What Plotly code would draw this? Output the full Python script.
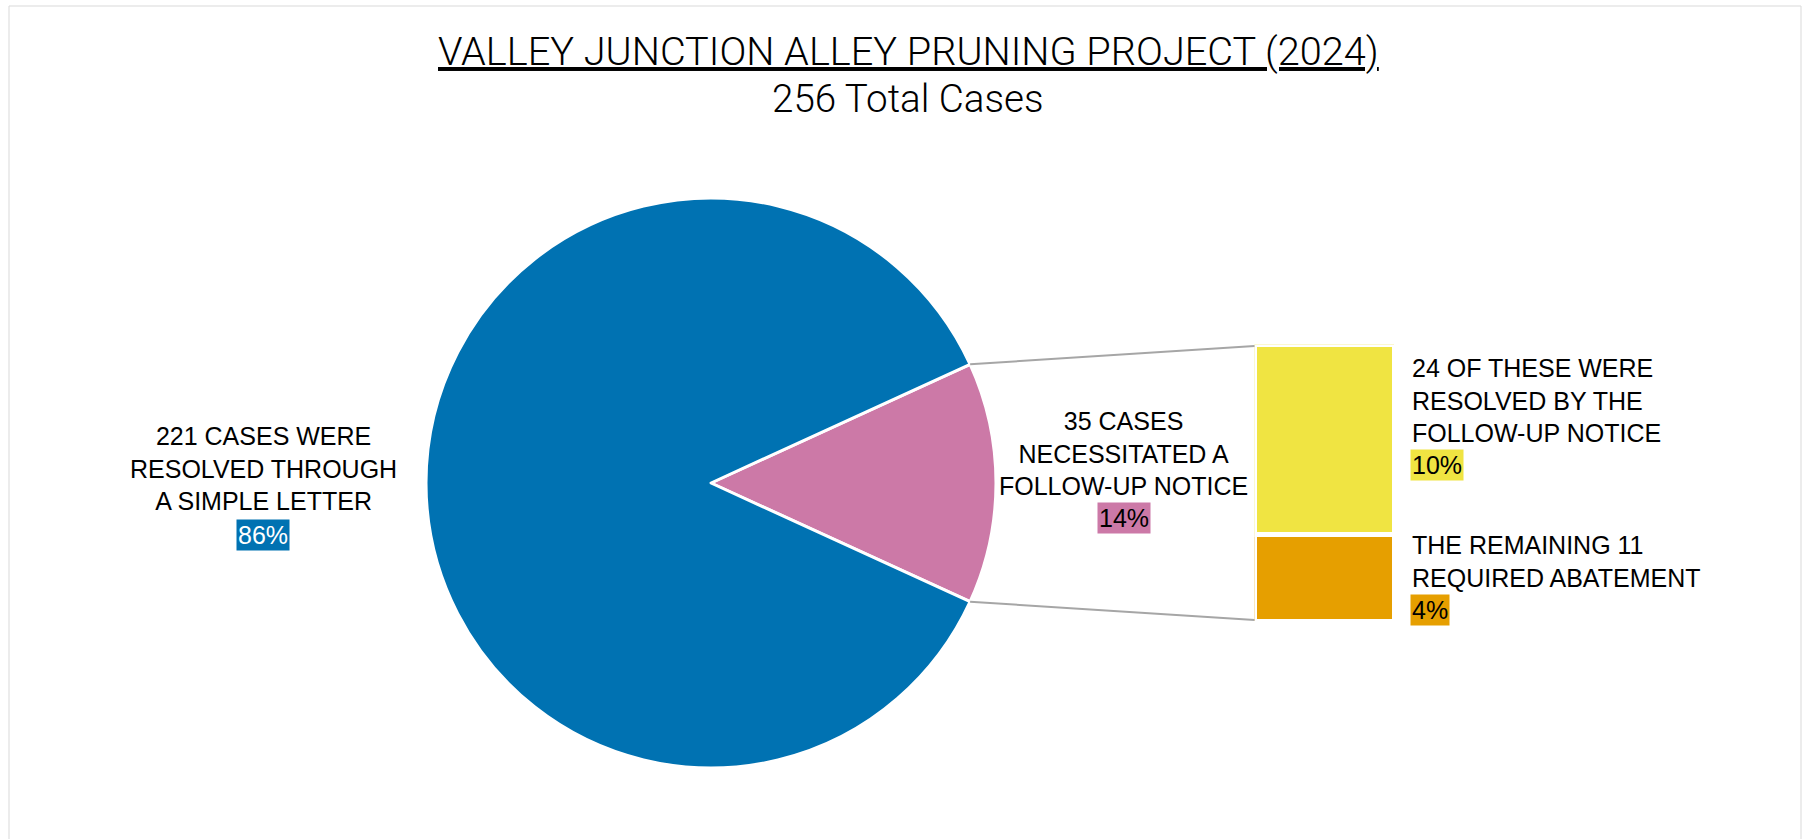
import math
import plotly.graph_objects as go

# ---------------- data ----------------
title_text = "VALLEY JUNCTION ALLEY PRUNING PROJECT (2024)"
subtitle_text = "256 Total Cases"

pie_labels = ["35 CASES<br>NECESSITATED A<br>FOLLOW-UP NOTICE",
              "221 CASES WERE<br>RESOLVED THROUGH<br>A SIMPLE LETTER"]
pie_values = [35, 221]
pie_pct = ["14%", "86%"]
pie_colors = ["#CC79A7", "#0072B2"]
pie_pct_font = ["#000000", "#FFFFFF"]

bar_labels = ["THE REMAINING 11<br>REQUIRED ABATEMENT",
              "24 OF THESE WERE<br>RESOLVED BY THE<br>FOLLOW-UP NOTICE"]
bar_values = [11, 24]
bar_pct = ["4%", "10%"]
bar_colors = ["#E69F00", "#F0E442"]

# ---------------- layout geometry (pixels) ----------------
W, H = 1807, 839
PIE_CX, PIE_CY, PIE_R = 711, 483, 285
BAR_X0, BAR_X1, BAR_Y0, BAR_Y1 = 1254.5, 1394.5, 344.5, 621.5
FONT = "Liberation Sans, Arial, sans-serif"
TFONT = "Roboto, Liberation Sans, Arial, sans-serif"
LBL = 25


def px(x):
    return x / W


def py(y):
    return (H - y) / H


fig = go.Figure()

# pie: the split slice (first) centred on 3 o'clock
total = sum(pie_values)
half_deg = pie_values[0] / total * 180.0
fig.add_trace(go.Pie(
    values=pie_values,
    labels=["Follow-up notice", "Simple letter"],
    marker=dict(colors=pie_colors, line=dict(color="white", width=3)),
    sort=False,
    direction="clockwise",
    rotation=90 - half_deg,
    textinfo="none",
    hoverinfo="label+value+percent",
    showlegend=False,
    domain=dict(x=[px(PIE_CX - PIE_R), px(PIE_CX + PIE_R)],
                y=[py(PIE_CY + PIE_R), py(PIE_CY - PIE_R)]),
))

# stacked bar (bar of pie)
for v, c, name in zip(bar_values, bar_colors, ["Abatement", "Resolved by notice"]):
    fig.add_trace(go.Bar(
        x=[0], y=[v], width=[1], name=name,
        marker=dict(color=c, line=dict(color="white", width=5)),
        xaxis="x2", yaxis="y2", showlegend=False,
    ))

# connector lines from slice edges to bar corners
half_rad = math.radians(half_deg)
ex = PIE_CX + PIE_R * math.cos(half_rad)
ey_top = PIE_CY - PIE_R * math.sin(half_rad)
ey_bot = PIE_CY + PIE_R * math.sin(half_rad)
shapes = [
    dict(type="line", xref="paper", yref="paper",
         x0=px(ex), y0=py(ey_top), x1=px(BAR_X0), y1=py(BAR_Y0 + 1.5),
         line=dict(color="#A6A6A6", width=2)),
    dict(type="line", xref="paper", yref="paper",
         x0=px(ex), y0=py(ey_bot), x1=px(BAR_X0), y1=py(BAR_Y1 - 1.5),
         line=dict(color="#A6A6A6", width=2)),
    dict(type="rect", xref="paper", yref="paper",
         x0=px(9), y0=py(846), x1=px(1801), y1=py(6),
         line=dict(color="#D9D9D9", width=1), layer="below"),
]

ann = []
ann.append(dict(text="<u>" + title_text + "</u>", x=px(908), y=py(52),
                font=dict(size=39.7, color="#000000", family=TFONT, weight=300)))
ann.append(dict(text=subtitle_text, x=px(908), y=py(98),
                font=dict(size=38.6, color="#000000", family=TFONT, weight=300)))

# pie labels
pie_lbl_pos = [(1123, 453), (263, 468)]
pie_pct_pos = [(1124, 518), (263, 535)]
for lbl, pct, col, fcol, (lx, ly), (qx, qy) in zip(pie_labels, pie_pct, pie_colors,
                                                   pie_pct_font, pie_lbl_pos, pie_pct_pos):
    ann.append(dict(text=lbl, x=px(lx), y=py(ly), align="center",
                    font=dict(size=LBL, color="#000000", family=FONT)))
    ann.append(dict(text=pct, x=px(qx), y=py(qy), bgcolor=col, borderpad=1,
                    font=dict(size=LBL, color=fcol, family=FONT)))

# bar labels
bar_lbl_pos = [(1410, 561), (1410, 401)]
bar_pct_pos = [(1410, 610), (1410, 465)]
for lbl, pct, col, (lx, ly), (qx, qy) in zip(bar_labels, bar_pct, bar_colors,
                                             bar_lbl_pos, bar_pct_pos):
    ann.append(dict(text=lbl, x=px(lx), y=py(ly), xanchor="left", align="left",
                    font=dict(size=LBL, color="#000000", family=FONT)))
    ann.append(dict(text=pct, x=px(qx), y=py(qy), xanchor="left", bgcolor=col,
                    borderpad=1, font=dict(size=LBL, color="#000000", family=FONT)))

for a in ann:
    a.setdefault("xref", "paper")
    a.setdefault("yref", "paper")
    a.setdefault("xanchor", "center")
    a.setdefault("yanchor", "middle")
    a["showarrow"] = False

fig.update_layout(
    width=W, height=H,
    margin=dict(l=0, r=0, t=0, b=0),
    paper_bgcolor="white", plot_bgcolor="white",
    barmode="stack", bargap=0,
    xaxis2=dict(domain=[px(BAR_X0), px(BAR_X1)], range=[-0.5, 0.5],
                visible=False, anchor="y2", fixedrange=True),
    yaxis2=dict(domain=[py(BAR_Y1), py(BAR_Y0)], range=[0, sum(bar_values)],
                visible=False, anchor="x2", fixedrange=True),
    shapes=shapes,
    annotations=ann,
    font=dict(family=FONT),
)

fig.write_html("out.html")
